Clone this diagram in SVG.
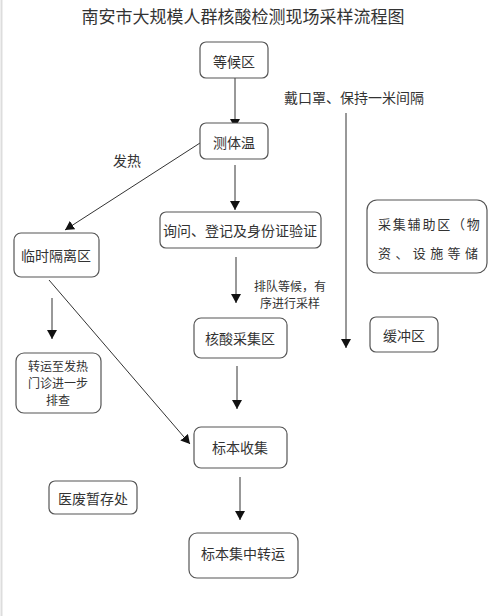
<svg xmlns="http://www.w3.org/2000/svg" width="500" height="616" viewBox="0 0 500 616">
<defs>
<marker id="ah" markerWidth="12" markerHeight="10" refX="9" refY="5" orient="auto" markerUnits="userSpaceOnUse">
<path d="M0,0 L9,5 L0,10 Z" fill="#111"/>
</marker>
<style>
.box{fill:#fff;stroke:#555;stroke-width:1.2}
.t{font-family:"Noto Sans CJK SC","Noto Sans",sans-serif;font-size:14px;fill:#333;text-anchor:middle;dominant-baseline:central}
.c{stroke:#333;stroke-width:1;fill:none;marker-end:url(#ah)}
</style>
</defs>
<rect width="500" height="616" fill="#fff"/>
<line x1="1.5" y1="0" x2="1.5" y2="616" stroke="#ddd" stroke-width="2"/>
<text x="243" y="15" class="t" style="font-size:17px">南安市大规模人群核酸检测现场采样流程图</text>
<text x="354" y="97" class="t">戴口罩、保持一米间隔</text>
<text x="127" y="160" class="t">发热</text>
<text class="t" style="font-size:12px"><tspan x="290" y="285">排队等候，有</tspan><tspan x="290" y="302">序进行采样</tspan></text>
<g id="connectors">
<line class="c" x1="235" y1="78" x2="235" y2="128"/>
<line class="c" x1="346" y1="113" x2="346" y2="348"/>
<line class="c" x1="200" y1="143" x2="65" y2="230"/>
<line class="c" x1="235" y1="165" x2="235" y2="210"/>
<line class="c" x1="236" y1="257" x2="236" y2="303"/>
<line class="c" x1="52" y1="298" x2="52" y2="339"/>
<line class="c" x1="49" y1="280" x2="190" y2="444"/>
<line class="c" x1="237" y1="366" x2="237" y2="409"/>
<line class="c" x1="240" y1="477" x2="240" y2="520"/>
</g>
<g id="n-wait"><rect class="box" x="200" y="42" width="68" height="36" rx="6"/><text x="234" y="61" class="t">等候区</text></g>
<g id="n-temp"><rect class="box" x="200" y="123" width="68" height="36" rx="6"/><text x="234" y="142" class="t">测体温</text></g>
<g id="n-ask"><rect class="box" x="160" y="212" width="161" height="36" rx="6"/><text x="240" y="230" class="t">询问、登记及身份证验证</text></g>
<g id="n-iso"><rect class="box" x="14" y="233" width="85" height="44" rx="7"/><text x="56" y="255" class="t">临时隔离区</text></g>
<g id="n-aux"><rect class="box" x="367" y="200" width="120" height="73" rx="10"/><text class="t" style="font-size:13px;text-anchor:start"><tspan x="378" y="223" style="letter-spacing:1.8px">采集辅助区（物</tspan><tspan x="378" y="252" style="letter-spacing:4.4px">资、设施等储</tspan></text></g>
<g id="n-trans"><rect class="box" x="16" y="353" width="85" height="60" rx="8"/><text class="t" style="font-size:12px"><tspan x="58" y="365">转运至发热</tspan><tspan x="58" y="382">门诊进一步</tspan><tspan x="58" y="399">排查</tspan></text></g>
<g id="n-nuc"><rect class="box" x="194" y="318" width="93" height="40" rx="7"/><text x="240" y="338" class="t">核酸采集区</text></g>
<g id="n-buf"><rect class="box" x="370" y="317" width="68" height="35" rx="6"/><text x="404" y="335" class="t">缓冲区</text></g>
<g id="n-col"><rect class="box" x="194" y="427" width="93" height="41" rx="7"/><text x="240" y="447" class="t">标本收集</text></g>
<g id="n-waste"><rect class="box" x="49" y="481" width="88" height="33" rx="6"/><text x="93" y="498" class="t">医废暂存处</text></g>
<g id="n-ship"><rect class="box" x="189" y="533" width="109" height="45" rx="8"/><text x="243" y="553" class="t">标本集中转运</text></g>
</svg>
